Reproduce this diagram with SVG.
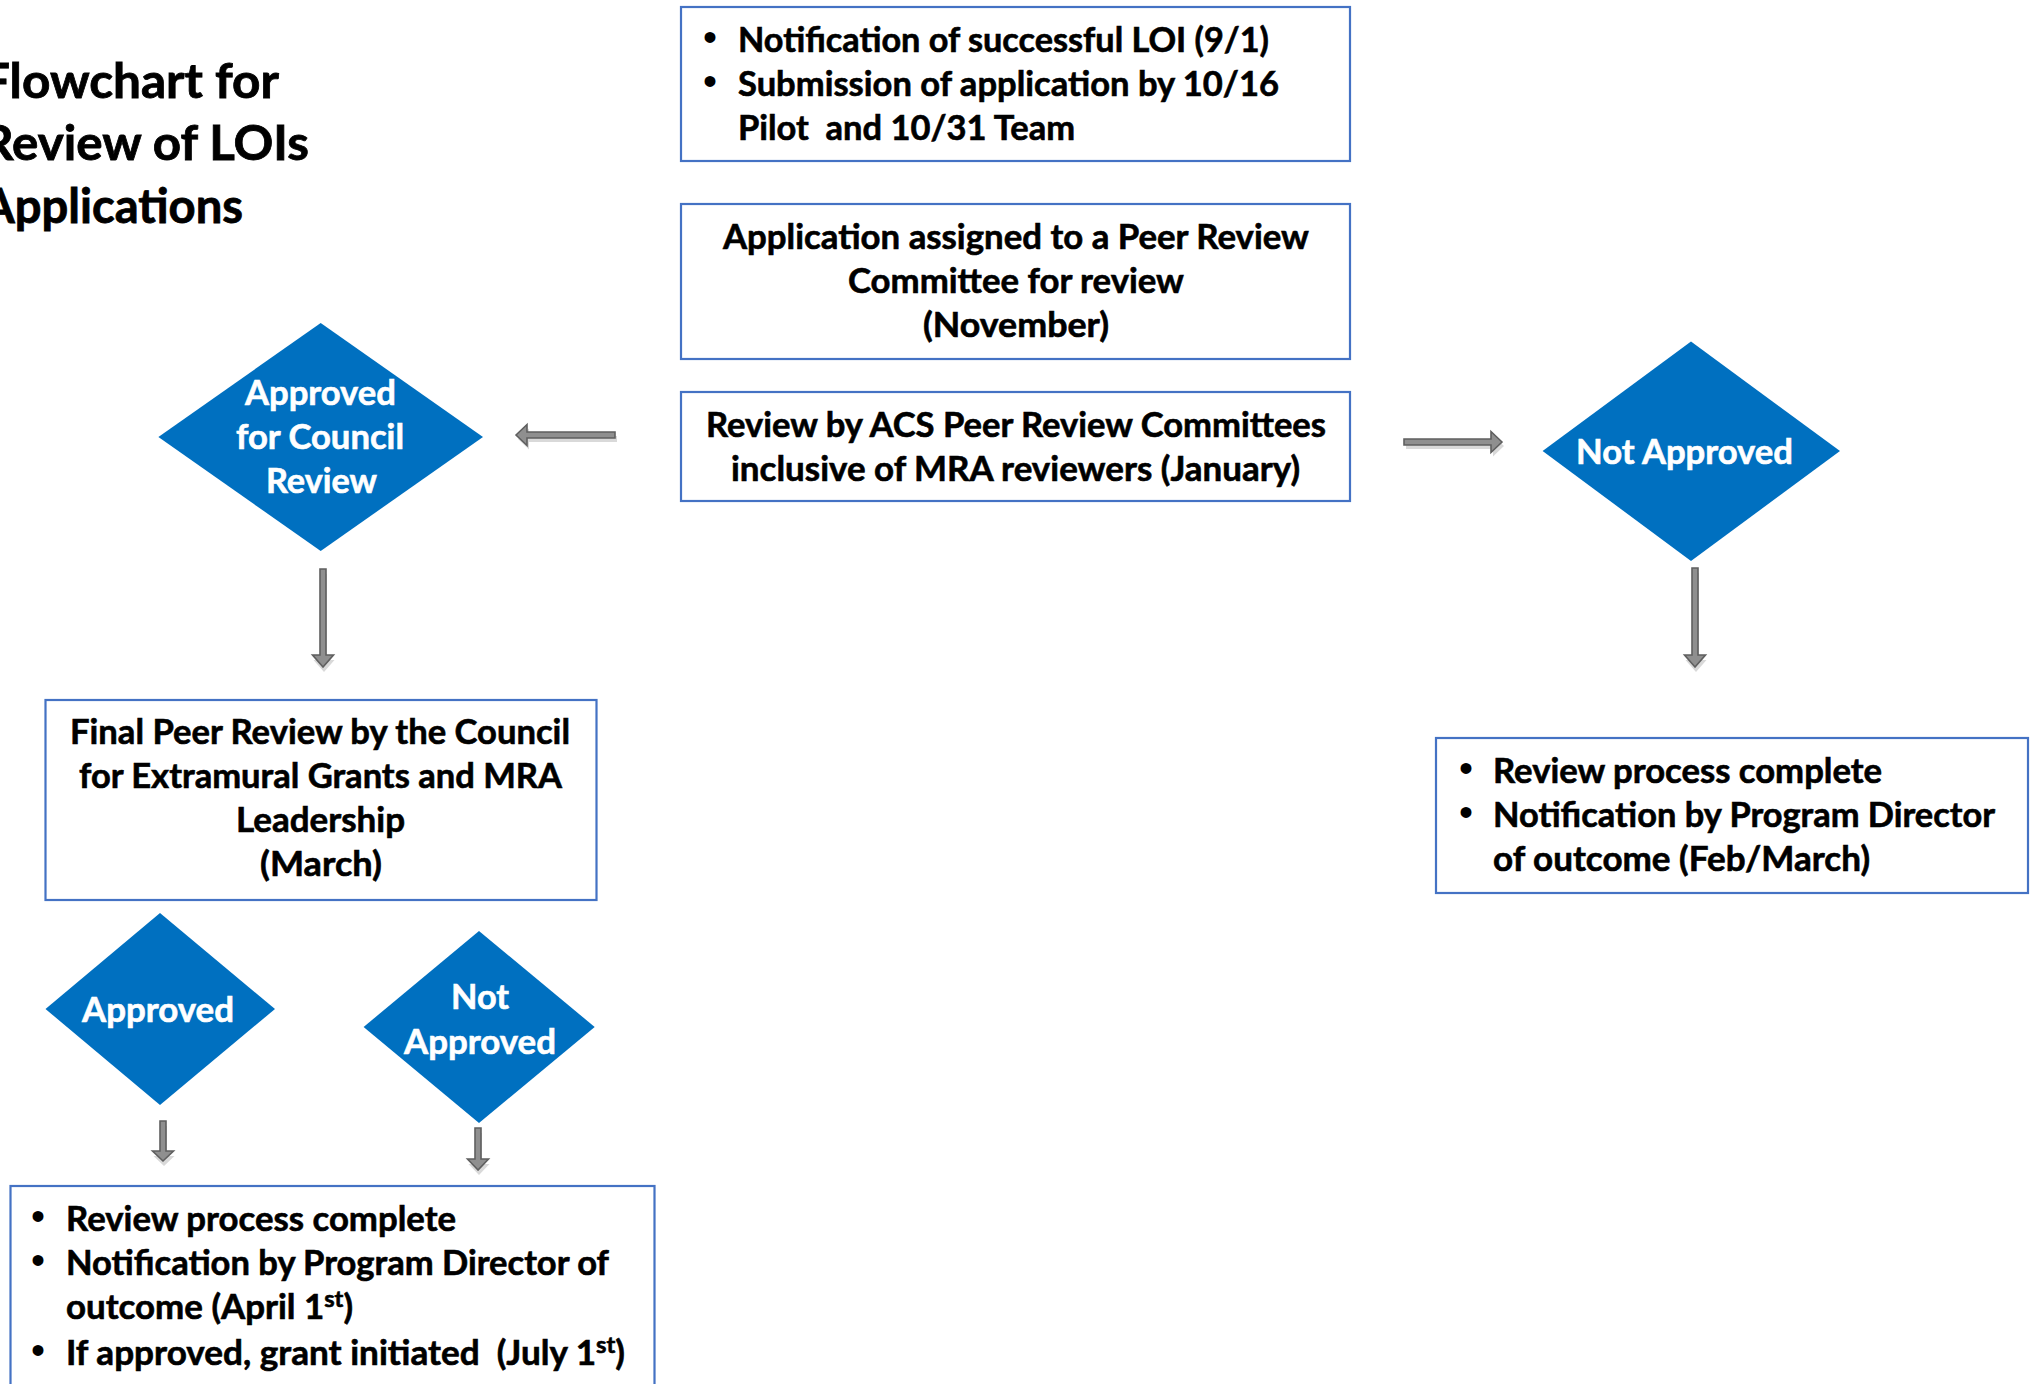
<svg xmlns="http://www.w3.org/2000/svg" width="2036" height="1384" viewBox="0 0 2036 1384">
<style>
.bg{fill:#ffffff}
.box{fill:#ffffff;stroke:#4472C4;stroke-width:2.2}
.dia{fill:#0070C0}
.t{font-family:Lato,"Open Sans","Liberation Sans",sans-serif;font-weight:700;font-size:34px;fill:#000;stroke:#000;stroke-width:0.6}
.w{font-family:Lato,"Open Sans","Liberation Sans",sans-serif;font-weight:700;font-size:34px;fill:#fff;stroke:#fff;stroke-width:0.6}
.b{font-family:"Liberation Sans",Arial,sans-serif;font-size:40px;fill:#000;text-anchor:middle}
.title{font-family:Lato,"Open Sans","Liberation Sans",sans-serif;font-weight:700;font-size:48px;fill:#000;stroke:#000;stroke-width:0.8}
.arr{fill:#8f8f8f;stroke:#5f5f5f;stroke-width:1.6;stroke-linejoin:miter}
.sh{fill:#cfcfcf;opacity:0.8}
</style>
<rect class="bg" x="0" y="0" width="2036" height="1384"/>

<g id="title">
<text class="title" x="-18" y="98" textLength="297" lengthAdjust="spacingAndGlyphs">Flowchart for</text>
<text class="title" x="-18" y="160" textLength="327" lengthAdjust="spacingAndGlyphs">Review of LOIs</text>
<text class="title" x="-18" y="223" textLength="261" lengthAdjust="spacingAndGlyphs">Applications</text>
</g>

<g id="connectors">
<path class="sh" transform="translate(2,4)" d="M516,435 L527,424.5 L527,432 L615,432 L615,438 L527,438 L527,445.5 Z"/>
<path class="arr" d="M516,435 L527,424.5 L527,432 L615,432 L615,438 L527,438 L527,445.5 Z"/>
<path class="sh" transform="translate(2,4)" d="M1502,442 L1491,431.5 L1491,439 L1404,439 L1404,445 L1491,445 L1491,452.5 Z"/>
<path class="arr" d="M1502,442 L1491,431.5 L1491,439 L1404,439 L1404,445 L1491,445 L1491,452.5 Z"/>
<path class="sh" transform="translate(1,5)" d="M323,667 L312.5,655 L320,655 L320,569 L326,569 L326,655 L333.5,655 Z"/>
<path class="arr" d="M323,667 L312.5,655 L320,655 L320,569 L326,569 L326,655 L333.5,655 Z"/>
<path class="sh" transform="translate(1,5)" d="M1695,667 L1684.5,655 L1692,655 L1692,568 L1698,568 L1698,655 L1705.5,655 Z"/>
<path class="arr" d="M1695,667 L1684.5,655 L1692,655 L1692,568 L1698,568 L1698,655 L1705.5,655 Z"/>
<path class="sh" transform="translate(1,5)" d="M163,1161 L152.5,1151 L160,1151 L160,1121 L166,1121 L166,1151 L173.5,1151 Z"/>
<path class="arr" d="M163,1161 L152.5,1151 L160,1151 L160,1121 L166,1121 L166,1151 L173.5,1151 Z"/>
<path class="sh" transform="translate(1,5)" d="M478,1170 L467.5,1159 L475,1159 L475,1128 L481,1128 L481,1159 L488.5,1159 Z"/>
<path class="arr" d="M478,1170 L467.5,1159 L475,1159 L475,1128 L481,1128 L481,1159 L488.5,1159 Z"/>
</g>

<g id="node-loi">
<rect class="box" x="681" y="7" width="669" height="154"/>
<text class="b" x="710" y="51">•</text>
<text class="t" x="738" y="52" textLength="531" lengthAdjust="spacingAndGlyphs">Notification of successful LOI (9/1)</text>
<text class="b" x="710" y="95">•</text>
<text class="t" x="738" y="96" textLength="541" lengthAdjust="spacingAndGlyphs">Submission of application by 10/16</text>
<text class="t" x="738" y="140" textLength="337" lengthAdjust="spacingAndGlyphs" xml:space="preserve">Pilot  and 10/31 Team</text>
</g>

<g id="node-assigned">
<rect class="box" x="681" y="204" width="669" height="155"/>
<text class="t" x="723" y="249" textLength="586" lengthAdjust="spacingAndGlyphs">Application assigned to a Peer Review</text>
<text class="t" x="848" y="293" textLength="336" lengthAdjust="spacingAndGlyphs">Committee for review</text>
<text class="t" x="923" y="337" textLength="186" lengthAdjust="spacingAndGlyphs">(November)</text>
</g>

<g id="node-review">
<rect class="box" x="681" y="392" width="669" height="109"/>
<text class="t" x="706" y="437" textLength="620" lengthAdjust="spacingAndGlyphs">Review by ACS Peer Review Committees</text>
<text class="t" x="731" y="481" textLength="569" lengthAdjust="spacingAndGlyphs">inclusive of MRA reviewers (January)</text>
</g>

<g id="node-approved-council">
<polygon class="dia" points="320.7,323 483,437 320.7,551 158.4,437"/>
<text class="w" x="245" y="405" textLength="151" lengthAdjust="spacingAndGlyphs">Approved</text>
<text class="w" x="236" y="449" textLength="168" lengthAdjust="spacingAndGlyphs">for Council</text>
<text class="w" x="266" y="493" textLength="111" lengthAdjust="spacingAndGlyphs">Review</text>
</g>

<g id="node-not-approved-1">
<polygon class="dia" points="1691,341.5 1840,451 1691,561 1542.6,451"/>
<text class="w" x="1576" y="464" textLength="217" lengthAdjust="spacingAndGlyphs">Not Approved</text>
</g>

<g id="node-complete-1">
<rect class="box" x="1436" y="738" width="592" height="155"/>
<text class="b" x="1466" y="782">•</text>
<text class="t" x="1493" y="783" textLength="389" lengthAdjust="spacingAndGlyphs">Review process complete</text>
<text class="b" x="1466" y="826">•</text>
<text class="t" x="1493" y="827" textLength="502" lengthAdjust="spacingAndGlyphs">Notification by Program Director</text>
<text class="t" x="1493" y="871" textLength="377" lengthAdjust="spacingAndGlyphs">of outcome (Feb/March)</text>
</g>

<g id="node-final">
<rect class="box" x="45.5" y="700" width="551" height="200"/>
<text class="t" x="70" y="744" textLength="500" lengthAdjust="spacingAndGlyphs">Final Peer Review by the Council</text>
<text class="t" x="79" y="788" textLength="483" lengthAdjust="spacingAndGlyphs">for Extramural Grants and MRA</text>
<text class="t" x="236" y="832" textLength="169" lengthAdjust="spacingAndGlyphs">Leadership</text>
<text class="t" x="260" y="876" textLength="122" lengthAdjust="spacingAndGlyphs">(March)</text>
</g>

<g id="node-approved">
<polygon class="dia" points="160,913 275,1009 160,1105 45.5,1009"/>
<text class="w" x="82" y="1022" textLength="152" lengthAdjust="spacingAndGlyphs">Approved</text>
</g>

<g id="node-not-approved-2">
<polygon class="dia" points="479,931 594.7,1027 479,1123 363.6,1027"/>
<text class="w" x="451" y="1009" textLength="58" lengthAdjust="spacingAndGlyphs">Not</text>
<text class="w" x="404" y="1054" textLength="152" lengthAdjust="spacingAndGlyphs">Approved</text>
</g>

<g id="node-complete-2">
<rect class="box" x="10.5" y="1186" width="644" height="230"/>
<text class="b" x="38" y="1230">•</text>
<text class="t" x="66" y="1231" textLength="390" lengthAdjust="spacingAndGlyphs">Review process complete</text>
<text class="b" x="38" y="1274">•</text>
<text class="t" x="66" y="1275" textLength="543" lengthAdjust="spacingAndGlyphs">Notification by Program Director of</text>
<text class="t" x="66" y="1319" textLength="287" lengthAdjust="spacingAndGlyphs">outcome (April 1<tspan font-size="23" dy="-12">st</tspan><tspan dy="12">)</tspan></text>
<text class="b" x="38" y="1364">•</text>
<text class="t" x="66" y="1365" textLength="559" lengthAdjust="spacingAndGlyphs" xml:space="preserve">If approved, grant initiated  (July 1<tspan font-size="23" dy="-12">st</tspan><tspan dy="12">)</tspan></text>
</g>
</svg>
